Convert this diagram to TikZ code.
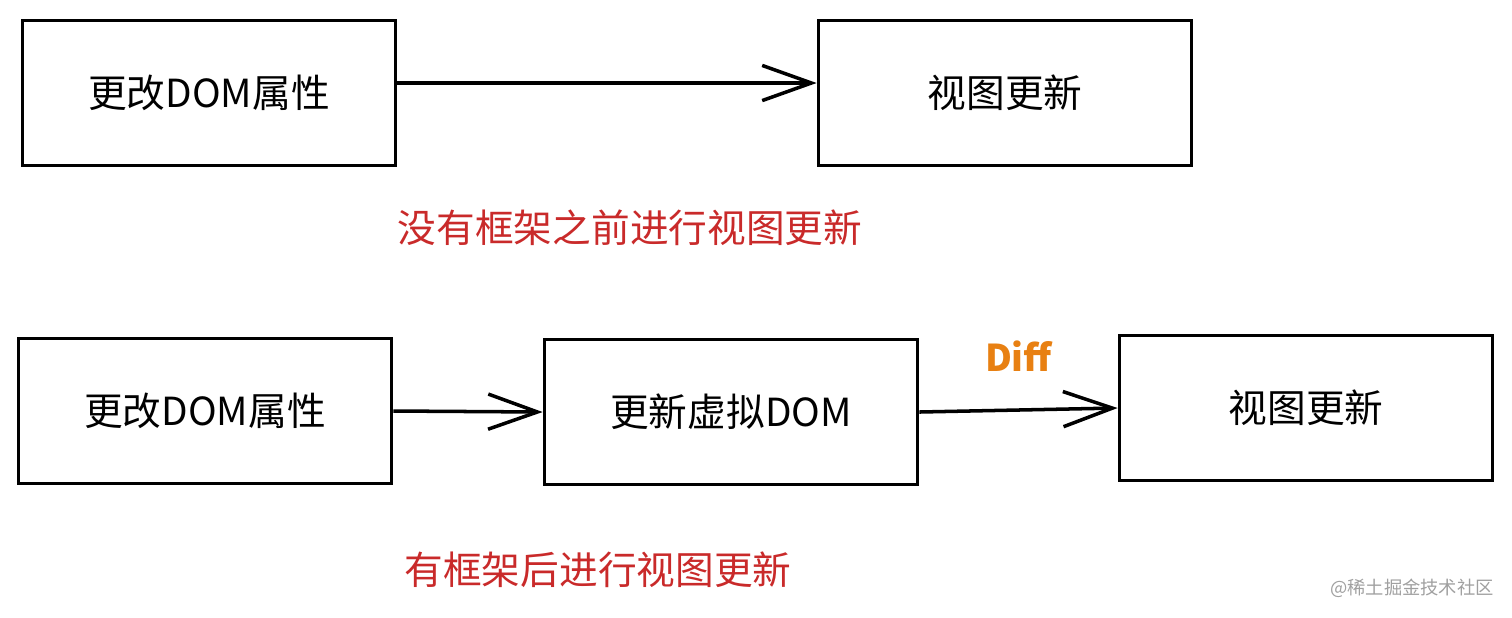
\documentclass[tikz,border=0pt]{standalone}
\usepackage{fontspec}
\usepackage{tikz}
\usetikzlibrary{arrows.meta,positioning}
\newfontfamily\cjk{Noto Sans CJK SC}
\definecolor{redtext}{RGB}{201,42,42}
\definecolor{orangetext}{RGB}{232,128,18}
\definecolor{marktext}{RGB}{160,160,160}

\begin{document}
\begin{tikzpicture}[x=0.01cm, y=-0.01cm, line width=1pt,
        block/.style={rectangle, draw, minimum width=3.73cm, minimum height=1.45cm, font=\cjk\fontsize{11}{13}\selectfont},
        note/.style={font=\cjk\fontsize{11}{13}\selectfont, text=redtext},
        arr/.style={-{Straight Barb[length=14pt,width=10pt,line width=1pt]}}]
        \useasboundingbox (0,0) rectangle (1512,617);

        % without framework
        \node [block] (oldchange) at (209,93) {更改DOM属性};
        \node [block] (oldview) at (1005,93) {视图更新};
        \node [note] (oldnote) at (630,228) {没有框架之前进行视图更新};
        \draw [arr] ([yshift=0.1cm]oldchange.east) -- ([yshift=0.1cm]oldview.west);

        % with framework
        \node [block] (newchange) at (205,411) {更改DOM属性};
        \node [block] (vdom) at (731,412) {更新虚拟DOM};
        \node [block] (newview) at (1306,408) {视图更新};
        \node [note] (newnote) at (598,570) {有框架后进行视图更新};
        \draw [arr] (newchange.east) -- (vdom.west);
        \draw [arr] (vdom.east) -- node [above=0.25cm, font=\cjk\bfseries\fontsize{10.5}{12}\selectfont, text=orangetext] {Diff} (newview.west);

        \node [font=\cjk\fontsize{5.2}{6}\selectfont, text=marktext] (mark) at (1412,588) {@稀土掘金技术社区};
    \end{tikzpicture}
\end{document}
